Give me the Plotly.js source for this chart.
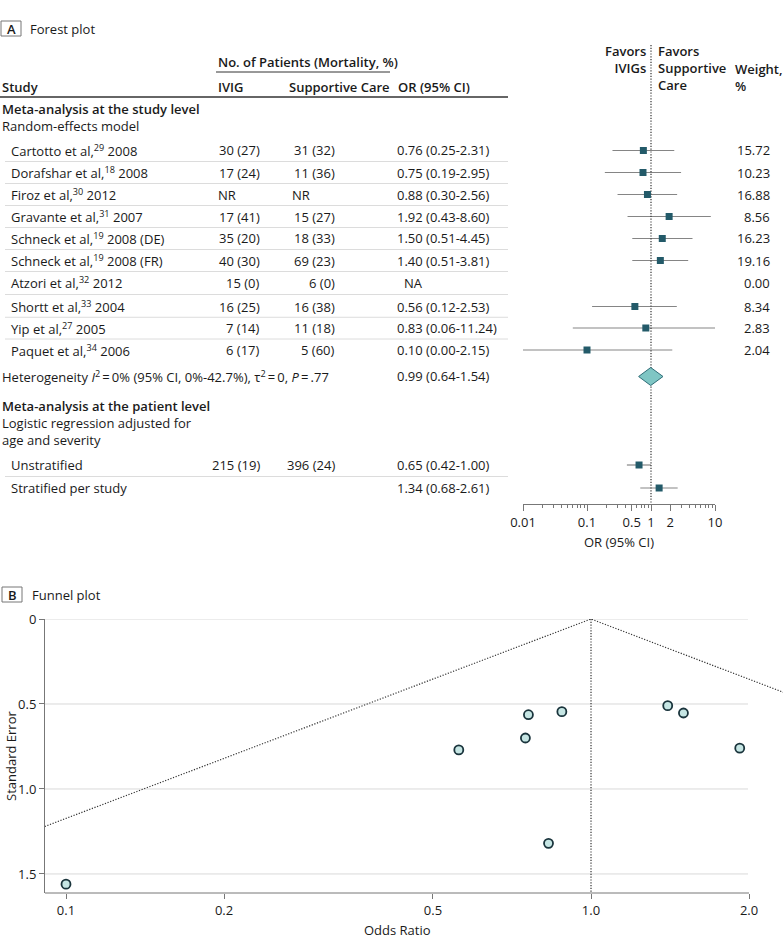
<!DOCTYPE html>
<html><head><meta charset="utf-8">
<script src="https://cdn.plot.ly/plotly-3.0.1.min.js"></script>
<style>html,body{margin:0;padding:0;background:#fff}</style>
</head><body><div id="chart" style="width:783px;height:947px"></div>
<script>
// ---------------- DATA ----------------
const studies = ['Cartotto et al,<sup>29</sup> 2008','Dorafshar et al,<sup>18</sup> 2008','Firoz et al,<sup>30</sup> 2012','Gravante et al,<sup>31</sup> 2007','Schneck et al,<sup>19</sup> 2008 (DE)','Schneck et al,<sup>19</sup> 2008 (FR)','Atzori et al,<sup>32</sup> 2012','Shortt et al,<sup>33</sup> 2004','Yip et al,<sup>27</sup> 2005','Paquet et al,<sup>34</sup> 2006'];
const ivigN = ['30 (27)','17 (24)','NR','17 (41)','35 (20)','40 (30)','15 (0)','16 (25)','7 (14)','6 (17)'];
const careN = ['31 (32)','11 (36)','NR','15 (27)','18 (33)','69 (23)','6 (0)','16 (38)','11 (18)','5 (60)'];
const orVal = [0.76,0.75,0.88,1.92,1.50,1.40,null,0.56,0.83,0.10];
const ciLow = [0.25,0.19,0.30,0.43,0.51,0.51,null,0.12,0.06,0.00];
const ciHigh = [2.31,2.95,2.56,8.60,4.45,3.81,null,2.53,11.24,2.15];
const weights = ['15.72','10.23','16.88','8.56','16.23','19.16','0.00','8.34','2.83','2.04'];
const pooledOR = 0.99, pooledLow = 0.64, pooledHigh = 1.54;
const patLabels = ['Unstratified','Stratified per study'];
const patIvig = ['215 (19)',''];
const patCare = ['396 (24)',''];
const patOR = [0.65,1.34];
const patLow = [0.42,0.68];
const patHigh = [1.00,2.61];
const forestTicks = [0.01,0.1,0.5,1,2,10];
const forestTickText = ['0.01','0.1','0.5','1','2','10'];
const forestMinor = [0.02,0.03,0.04,0.05,0.06,0.07,0.08,0.09,0.2,0.3,0.4,0.6,0.7,0.8,0.9,3,4,5,6,7,8,9];
// funnel plot
const funnelOR = [0.76,0.75,0.88,1.92,1.50,1.40,0.56,0.83,0.10];
const funnelSE = [0.563,0.70,0.545,0.76,0.553,0.51,0.77,1.32,1.56];
const limitOR = [0.086,1,2.66];
const limitSE = [1.25,0,0.5];
const funnelXTicks = [0.1,0.2,0.5,1,2];
const funnelXText = ['0.1','0.2','0.5','1.0','2.0'];
const funnelYTicks = [0,0.5,1,1.5];
const funnelYText = ['0','0.5','1.0','1.5'];

// ---------------- LAYOUT CONSTANTS (pixels) ----------------
const W = 783, H = 947;
const px = x => x / W, py = y => 1 - y / H;
const rowY = [150.5,172.5,194.5,216.5,238.5,260.5,282.5,306.5,328,350];
const pooledY = 376.5;
const patY = [465,488];
const diamondHalf = 9;
const SQ = '#235a69', CI = '#858585', DIA = '#7fc6c4';
const FONT = '"Open Sans", "Noto Sans", Arial, sans-serif';
const DOTS = '1.2px,1.6px';

// ---------------- TRACES ----------------
const traces = [];
const ciX = [], ciY = [];
for (let i = 0; i < orVal.length; i++) {
  if (orVal[i] == null) continue;
  ciX.push(Math.max(ciLow[i], 0.01), ciHigh[i], null);
  ciY.push(rowY[i], rowY[i], null);
}
for (let i = 0; i < patOR.length; i++) {
  ciX.push(patLow[i], patHigh[i], null);
  ciY.push(patY[i], patY[i], null);
}
traces.push({type:'scatter', mode:'lines', x:ciX, y:ciY, xaxis:'x', yaxis:'y',
  line:{color:CI, width:1.2}, hoverinfo:'skip', showlegend:false});
traces.push({type:'scatter', mode:'lines', x:[1,1], y:[45,504], xaxis:'x', yaxis:'y',
  line:{color:'#333', width:1.2, dash:DOTS}, hoverinfo:'skip', showlegend:false});
const sqX = [], sqY = [];
orVal.forEach((v,i)=>{ if (v!=null){ sqX.push(v); sqY.push(rowY[i]); } });
patOR.forEach((v,i)=>{ sqX.push(v); sqY.push(patY[i]); });
traces.push({type:'scatter', mode:'markers', x:sqX, y:sqY, xaxis:'x', yaxis:'y',
  marker:{symbol:'square', size:7, color:SQ, line:{width:0}}, showlegend:false});
traces.push({type:'scatter', mode:'lines', fill:'toself', fillcolor:DIA,
  x:[pooledLow, pooledOR, pooledHigh, pooledOR, pooledLow],
  y:[pooledY, pooledY - diamondHalf, pooledY, pooledY + diamondHalf, pooledY],
  xaxis:'x', yaxis:'y', line:{color:'#2f6d78', width:1}, showlegend:false, hoverinfo:'skip'});

traces.push({type:'scatter', mode:'lines', x:limitOR, y:limitSE, xaxis:'x2', yaxis:'y2',
  line:{color:'#333', width:1.2, dash:DOTS}, hoverinfo:'skip', showlegend:false});
traces.push({type:'scatter', mode:'lines', x:[1,1], y:[0,1.612], xaxis:'x2', yaxis:'y2',
  line:{color:'#333', width:1.2, dash:DOTS}, hoverinfo:'skip', showlegend:false});
traces.push({type:'scatter', mode:'markers', x:funnelOR, y:funnelSE, xaxis:'x2', yaxis:'y2',
  marker:{symbol:'circle', size:9, color:'#c6e6e4', line:{color:'#1a343c', width:1.8}},
  showlegend:false, cliponaxis:false});

// ---------------- SHAPES ----------------
const shapes = [];
function hline(x0,x1,y,color,width){
  shapes.push({type:'line', xref:'paper', yref:'paper', x0:px(x0), x1:px(x1), y0:py(y), y1:py(y),
    line:{color:color, width:width}});
}
for (let i = 0; i < rowY.length - 1; i++) hline(5, 508, (rowY[i]+rowY[i+1])/2, '#dcdcdc', 1);
hline(5, 508, (patY[0]+patY[1])/2, '#dcdcdc', 1);
hline(216, 390, 72, '#333', 1);
hline(0, 508, 97, '#333', 1.5);
shapes.push({type:'rect', xref:'paper', yref:'paper', x0:px(1), x1:px(21), y0:py(21), y1:py(36), line:{color:'#777', width:1}});
shapes.push({type:'rect', xref:'paper', yref:'paper', x0:px(2), x1:px(22), y0:py(587), y1:py(602), line:{color:'#777', width:1}});
funnelYTicks.forEach(v=>{
  shapes.push({type:'line', xref:'paper', yref:'y2', x0:px(45), x1:px(748), y0:v, y1:v,
    line:{color:'#d9d9d9', width:1}, layer:'below'});
});
hline(45, 749, 893, '#777', 1);

// ---------------- ANNOTATIONS ----------------
const annotations = [];
function ann(text, x, y, xanchor, opts){
  annotations.push(Object.assign({text:text, xref:'paper', yref:'paper', x:px(x), y:py(y),
    xanchor:xanchor||'left', yanchor:'middle', showarrow:false, align:xanchor||'left',
    font:{family:FONT, size:13, color:'#1a1a1a'}}, opts||{}));
}
function bold(text, x, y, xanchor){
  ann(text, x, y, xanchor, {font:{family:FONT, size:13, color:'#1a1a1a', weight:600}});
}
const semi = t => '<span style="font-weight:600">' + t + '</span>';
bold('A', 11, 28.5, 'center');
ann('Forest plot', 28, 28.5, 'left');
bold('B', 12, 594.5, 'center');
ann('Funnel plot', 30, 594.5, 'left');

bold('No. of Patients (Mortality, %)', 216, 62, 'left');
bold('Study', 0, 87, 'left');
bold('IVIG', 216, 87, 'left');
bold('Supportive Care', 287, 87, 'left');
bold('OR (95% CI)', 396, 87, 'left');
bold('Favors<br>IVIGs', 648, 59.5, 'right');
bold('Favors<br>Supportive<br>Care', 656, 68, 'left');
bold('Weight,<br>%', 733, 77, 'left');

ann(semi('Meta-analysis at the study level') + '<br>Random-effects model', 0, 118, 'left');
for (let i = 0; i < studies.length; i++) {
  ann(studies[i], 9, rowY[i], 'left');
  if (ivigN[i] === 'NR') ann('NR', 216, rowY[i], 'left'); else ann(ivigN[i], 262, rowY[i], 'right');
  if (careN[i] === 'NR') ann('NR', 290, rowY[i], 'left'); else ann(careN[i], 337, rowY[i], 'right');
  if (orVal[i] == null) ann('NA', 402, rowY[i], 'left');
  else ann(orVal[i].toFixed(2)+' ('+ciLow[i].toFixed(2)+'-'+ciHigh[i].toFixed(2)+')', 395, rowY[i], 'left');
  ann(weights[i], 772, rowY[i], 'right');
}
ann('Heterogeneity <i>I</i><sup>2</sup>\u2009=\u20090% (95% CI, 0%-42.7%), \u03c4<sup>2</sup>\u2009=\u20090, <i>P</i>\u2009=\u2009.77', 0, pooledY, 'left');
ann(pooledOR.toFixed(2)+' ('+pooledLow.toFixed(2)+'-'+pooledHigh.toFixed(2)+')', 395, pooledY, 'left');

ann(semi('Meta-analysis at the patient level') + '<br>Logistic regression adjusted for<br>age and severity', 0, 423, 'left');
for (let i = 0; i < patLabels.length; i++) {
  ann(patLabels[i], 9, patY[i], 'left');
  if (patIvig[i]) ann(patIvig[i], 262, patY[i], 'right');
  if (patCare[i]) ann(patCare[i], 337, patY[i], 'right');
  ann(patOR[i].toFixed(2)+' ('+patLow[i].toFixed(2)+'-'+patHigh[i].toFixed(2)+')', 395, patY[i], 'left');
}
ann('OR (95% CI)', 619, 542, 'center');
ann('Odds Ratio', 397, 930, 'center');
ann('Standard Error', 11, 756, 'center', {textangle:-90});

// ---------------- LAYOUT ----------------
const layout = {
  width: W, height: H, margin:{l:0, r:0, t:0, b:0},
  paper_bgcolor:'#fff', plot_bgcolor:'rgba(0,0,0,0)',
  font:{family:FONT, size:13, color:'#1a1a1a'},
  showlegend:false,
  xaxis:{type:'log', domain:[px(523), px(715)], range:[-2,1], anchor:'y',
    showline:true, linecolor:'#777', linewidth:1, ticks:'outside', ticklen:6, tickcolor:'#777',
    tickvals:forestTicks, ticktext:forestTickText, tickfont:{family:FONT, size:13, color:'#1a1a1a'},
    showgrid:false, zeroline:false, fixedrange:true,
    minor:{tickvals:forestMinor, ticks:'outside', ticklen:3, tickcolor:'#777', showgrid:false}},
  yaxis:{domain:[py(504), 1], range:[504, 0], anchor:'x', visible:false, fixedrange:true},
  xaxis2:{type:'log', domain:[px(45), 1], range:[-1.040, 0.3657], anchor:'y2',
    showline:false, ticks:'outside', ticklen:5, tickcolor:'#777',
    tickvals:funnelXTicks, ticktext:funnelXText, tickfont:{family:FONT, size:13, color:'#1a1a1a'},
    showgrid:false, zeroline:false, fixedrange:true},
  yaxis2:{domain:[py(893), py(619)], range:[1.612, 0], anchor:'x2',
    showline:true, linecolor:'#777', linewidth:1, ticks:'outside', ticklen:5, tickcolor:'#777',
    tickvals:funnelYTicks, ticktext:funnelYText, tickfont:{family:FONT, size:13, color:'#1a1a1a'},
    showgrid:false, zeroline:false, fixedrange:true},
  shapes: shapes,
  annotations: annotations
};
Plotly.newPlot('chart', traces, layout, {displayModeBar:false, staticPlot:true});
</script></body></html>
